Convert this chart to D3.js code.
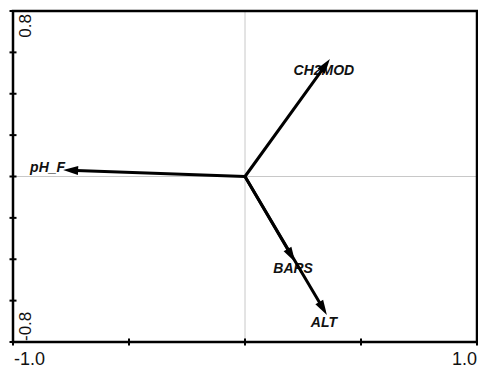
<!DOCTYPE html>
<html>
<head>
<meta charset="utf-8">
<script src="https://cdn.jsdelivr.net/npm/d3@7"></script>
<style>
  body { margin: 0; background: #fff; }
  text { font-family: Arial, "Liberation Sans", sans-serif; }
</style>
</head>
<body>
<div id="chart"></div>
<script>
// biplot data (scores on axis 1 / axis 2)
var names = ["CH2MOD", "pH_F", "BARS", "ALT"];
var axis1 = [0.366, -0.784, 0.216, 0.353];
var axis2 = [0.568, 0.031, -0.413, -0.669];

var xTicks = [-1.0, -0.5, 0, 0.5, 1.0];
var yTicks = [-0.8, -0.6, -0.4, -0.2, 0, 0.2, 0.4, 0.6, 0.8];
var xTickLabels = ["-1.0", "1.0"];
var yTickLabels = ["-0.8", "0.8"];

function draw() {
    var width = 478, height = 372;
    // note: "top" is reserved on window, so use plot* names
    var plotL = 13, plotR = 477, plotT = 11, plotB = 342;

    var svg = d3.select("#chart").append("svg")
        .attr("width", width)
        .attr("height", height);

    var x = d3.scaleLinear().domain([-1, 1]).range([plotL, plotR]);
    var y = d3.scaleLinear().domain([-0.8, 0.8]).range([plotB, plotT]);

    // gray cross through origin
    svg.append("line")
        .attr("x1", x(0)).attr("x2", x(0))
        .attr("y1", plotT).attr("y2", plotB)
        .attr("stroke", "#c8c8c8").attr("stroke-width", 1);
    svg.append("line")
        .attr("x1", plotL).attr("x2", plotR)
        .attr("y1", y(0)).attr("y2", y(0))
        .attr("stroke", "#c8c8c8").attr("stroke-width", 1);

    // frame
    svg.append("rect")
        .attr("x", plotL).attr("y", plotT)
        .attr("width", plotR - plotL).attr("height", plotB - plotT)
        .attr("fill", "none")
        .attr("stroke", "#000")
        .attr("stroke-width", 2.5);

    // ticks
    svg.selectAll(".yt").data(yTicks).enter().append("line")
        .attr("x1", plotL - 3.5).attr("x2", plotL + 3.5)
        .attr("y1", function(d) { return y(d); })
        .attr("y2", function(d) { return y(d); })
        .attr("stroke", "#000").attr("stroke-width", 2);
    svg.selectAll(".xt").data(xTicks).enter().append("line")
        .attr("x1", function(d) { return x(d); })
        .attr("x2", function(d) { return x(d); })
        .attr("y1", plotB - 3.5).attr("y2", plotB + 3.5)
        .attr("stroke", "#000").attr("stroke-width", 2);

    // tick labels (only the ends)
    svg.append("text")
        .attr("x", plotL + 1).attr("y", 365)
        .attr("font-size", 18).attr("fill", "#111")
        .text(xTickLabels[0]);
    svg.append("text")
        .attr("x", plotR).attr("y", 365)
        .attr("text-anchor", "end")
        .attr("font-size", 18).attr("fill", "#111")
        .text(xTickLabels[1]);

    svg.append("text")
        .attr("transform", "translate(31," + (plotB - 1) + ") rotate(-90)")
        .attr("font-size", 17).attr("fill", "#111")
        .text(yTickLabels[0]);
    svg.append("text")
        .attr("transform", "translate(31," + (plotT + 3) + ") rotate(-90)")
        .attr("text-anchor", "end")
        .attr("font-size", 17).attr("fill", "#111")
        .text(yTickLabels[1]);

    // label placement relative to arrow tip
    var labelPos = {
        "CH2MOD": {dx: -6, dy: 16, anchor: "middle"},
        "pH_F":   {dx: 2, dy: 2, anchor: "end"},
        "BARS":   {dx: -2, dy: 11, anchor: "middle"},
        "ALT":    {dx: -3, dy: 12, anchor: "middle"}
    };

    var pts = names.map(function(n, i) {
        return {name: n, px: x(axis1[i]), py: y(axis2[i])};
    });

    svg.selectAll(".lab").data(pts).enter().append("text")
        .attr("x", function(d) { return d.px + labelPos[d.name].dx; })
        .attr("y", function(d) { return d.py + labelPos[d.name].dy; })
        .attr("text-anchor", function(d) { return labelPos[d.name].anchor; })
        .attr("font-size", 14)
        .attr("font-weight", "bold")
        .attr("font-style", "italic")
        .attr("fill", "#111")
        .text(function(d) { return d.name; });

    // arrows
    var ox = x(0), oy = y(0), headLen = 15, headHalf = 4.5;
    var g = svg.append("g");
    pts.forEach(function(d) {
        var vx = d.px - ox, vy = d.py - oy;
        var len = Math.sqrt(vx * vx + vy * vy);
        var ux = vx / len, uy = vy / len;
        var bx = d.px - ux * headLen, by = d.py - uy * headLen;
        g.append("line")
            .attr("x1", ox).attr("y1", oy)
            .attr("x2", bx + ux * 2).attr("y2", by + uy * 2)
            .attr("stroke", "#000").attr("stroke-width", 3)
            .attr("stroke-linecap", "round");
        g.append("path")
            .attr("d", "M" + d.px + "," + d.py +
                "L" + (bx - uy * headHalf) + "," + (by + ux * headHalf) +
                "L" + (bx + uy * headHalf) + "," + (by - ux * headHalf) + "Z")
            .attr("fill", "#000");
    });
}

draw();
</script>
</body>
</html>
